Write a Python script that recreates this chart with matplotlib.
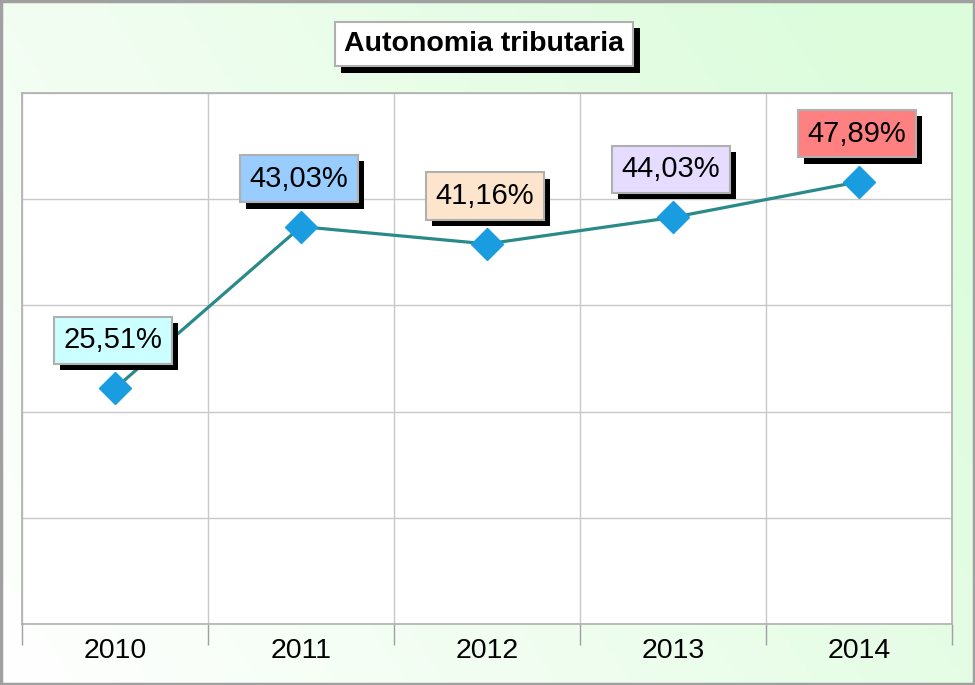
import numpy as np
import matplotlib.pyplot as plt
import matplotlib.patheffects as pe

years = ["2010", "2011", "2012", "2013", "2014"]
values = [25.51, 43.03, 41.16, 44.03, 47.89]
labels = ["25,51%", "43,03%", "41,16%", "44,03%", "47,89%"]
label_colors = ["#ccffff", "#99ccff", "#fde4cc", "#e6dcff", "#ff8080"]

plt.rcParams['font.family'] = ['Liberation Sans', 'DejaVu Sans']

fig = plt.figure(figsize=(9.75, 6.85), dpi=100)

# background gradient
bg = fig.add_axes([0, 0, 1, 1], zorder=-10)
gx, gy = np.meshgrid(np.linspace(0, 1, 300), np.linspace(0, 1, 200))
t = np.clip(0.75 * gx + 0.35 * gy, 0, 1)
white = np.array([1.0, 1.0, 1.0])
green = np.array([0xdc, 0xfc, 0xdc]) / 255
img = white[None, None, :] * (1 - t[..., None]) + green[None, None, :] * t[..., None]
bg.imshow(img, origin="lower", aspect="auto", extent=[0, 1, 0, 1])
bg.set_xlim(0, 1)
bg.set_ylim(0, 1)
bg.axis("off")
bg.add_patch(plt.Rectangle((0.001, 0.001), 0.998, 0.997, fill=False,
                           edgecolor="#a0a0a0", linewidth=2.5, transform=bg.transAxes))

ax = fig.add_axes([22 / 975, 1 - 624 / 685, 930 / 975, 531 / 685])
ax.set_facecolor("white")

x = np.arange(len(years))
ymax = 57.5
ax.set_xlim(-0.5, len(years) - 0.5)
ax.set_ylim(0, ymax)
ax.set_yticks(np.linspace(0, ymax, 6))
ax.set_yticklabels([])
ax.tick_params(axis="y", length=0)

ax.set_xticks(x)
ax.set_xticklabels(years, fontsize=20.5)
ax.set_xticks(np.arange(-0.5, len(years), 1), minor=True)
ax.tick_params(axis="x", which="major", length=0, pad=10)
ax.tick_params(axis="x", which="minor", length=15, color="#a0a0a0", width=1)

ax.grid(True, axis="y", color="#c8c8c8", linewidth=1)
ax.grid(True, axis="x", which="minor", color="#c8c8c8", linewidth=1)
ax.grid(False, axis="x", which="major")
for s in ax.spines.values():
    s.set_color("#b0b0b0")
    s.set_linewidth(1.2)
ax.set_axisbelow(True)

ax.plot(x, values, color="#2a8a8a", linewidth=2.3, zorder=3)
ax.plot(x, values, linestyle="none", marker="D", markersize=16,
        markerfacecolor="#1a9de0", markeredgecolor="#1a9de0", zorder=4)

shadow = [pe.SimplePatchShadow(offset=(4.5, -4.5), shadow_rgbFace="black", alpha=1.0), pe.Normal()]

for xi, v, lab, c in zip(x, values, labels, label_colors):
    t = ax.annotate(lab, (xi, v), xytext=(-2, 48), textcoords="offset pixels",
                    ha="center", va="center", fontsize=21, color="black", zorder=6,
                    bbox=dict(boxstyle="square,pad=0.33", facecolor=c,
                              edgecolor="#b0b0b0", linewidth=1.5))
    t.get_bbox_patch().set_path_effects(shadow)

title = fig.text(484 / 975, 1 - 44 / 685, "Autonomia tributaria", ha="center", va="center",
                 fontsize=20.5, fontweight="bold", color="black",
                 bbox=dict(boxstyle="square,pad=0.33", facecolor="white",
                           edgecolor="#b0b0b0", linewidth=1.5))
title.get_bbox_patch().set_path_effects(shadow)

fig.savefig("out.png", dpi=100)
